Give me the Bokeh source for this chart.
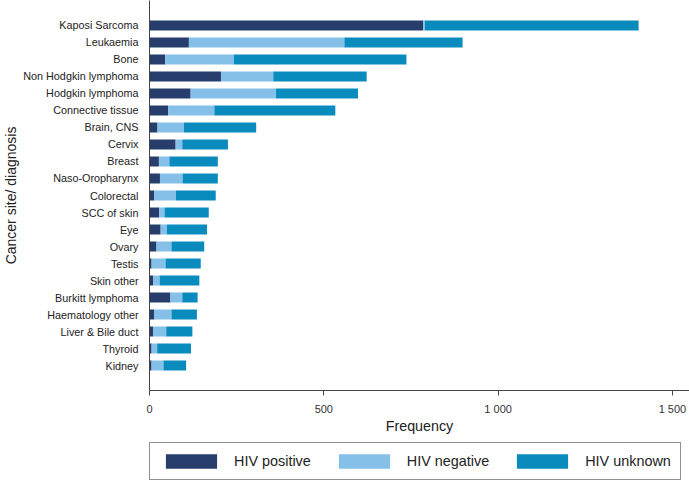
from bokeh.plotting import figure
from bokeh.layouts import column
from bokeh.models import (ColumnDataSource, FactorRange, Range1d, Legend, LegendItem,
                          SingleIntervalTicker)
from bokeh.embed import file_html
from bokeh.resources import INLINE

categories = ["Kaposi Sarcoma", "Leukaemia", "Bone", "Non Hodgkin lymphoma", "Hodgkin lymphoma",
              "Connective tissue", "Brain, CNS", "Cervix", "Breast", "Naso-Oropharynx", "Colorectal",
              "SCC of skin", "Eye", "Ovary", "Testis", "Skin other", "Burkitt lymphoma",
              "Haematology other", "Liver & Bile duct", "Thyroid", "Kidney"]
hiv_positive = [785, 113, 45, 205, 118, 54, 23, 75, 27, 30, 14, 28, 32, 20, 6, 10, 60, 14, 10, 6, 6]
hiv_negative = [5, 446, 197, 150, 245, 132, 76, 19, 30, 65, 62, 15, 18, 43, 40, 19, 34, 49, 38, 16, 34]
hiv_unknown = [613, 339, 495, 268, 235, 347, 207, 131, 139, 101, 114, 127, 115, 94, 101, 114, 44, 73, 75, 97, 65]
series = ["HIV positive", "HIV negative", "HIV unknown"]
colors = ["#273E6C", "#85C0E9", "#0A8BBE"]
x_ticks_labels = {0: "0", 500: "500", 1000: "1 000", 1500: "1 500"}

source = ColumnDataSource(dict(cat=categories, pos=hiv_positive, neg=hiv_negative, unk=hiv_unknown))

FONT = "Liberation Sans"
p = figure(width=689, height=436, output_backend="svg", toolbar_location=None,
           y_range=FactorRange(factors=list(reversed(categories)), range_padding=0.97,
                               range_padding_units="absolute"),
           x_range=Range1d(0, 1549),
           min_border_top=0, min_border_right=0, min_border_bottom=0, min_border_left=141)

p.hbar_stack(["pos", "neg", "unk"], y="cat", height=0.6, color=colors,
             line_color=None, source=source)

p.outline_line_color = None
p.xgrid.grid_line_color = None
p.ygrid.grid_line_color = None

# x axis
xa = p.xaxis[0]
xa.ticker = SingleIntervalTicker(interval=500, num_minor_ticks=0)
xa.major_label_overrides = x_ticks_labels
xa.axis_label = "Frequency"
xa.axis_label_text_font = FONT
xa.axis_label_text_font_size = "14.3px"
xa.axis_label_text_font_style = "normal"
xa.axis_label_text_color = "#222222"
xa.axis_label_standoff = 0
xa.major_label_text_font = FONT
xa.major_label_text_font_size = "11px"
xa.major_label_text_color = "#333333"
xa.major_label_standoff = 7
xa.major_tick_out = 5
xa.major_tick_in = 0
xa.minor_tick_line_color = None
xa.axis_line_color = "#444444"
xa.major_tick_line_color = "#444444"

# y axis
ya = p.yaxis[0]
ya.axis_label = "Cancer site/ diagnosis"
ya.axis_label_text_font = FONT
ya.axis_label_text_font_size = "14px"
ya.axis_label_text_font_style = "normal"
ya.axis_label_text_color = "#222222"
ya.axis_label_standoff = 1
ya.major_label_text_font = FONT
ya.major_label_text_font_size = "10.8px"
ya.major_label_text_color = "#222222"
ya.major_label_standoff = 5
ya.major_tick_line_color = None
ya.minor_tick_line_color = None
ya.axis_line_color = "#444444"

# legend strip (separate figure below the chart; its bar renderers are hidden)
p2 = figure(width=689, height=45, output_backend="svg", toolbar_location=None,
            x_axis_type=None, y_axis_type=None, x_range=Range1d(0, 1),
            y_range=FactorRange(factors=list(reversed(categories))),
            min_border_top=0, min_border_right=0, min_border_bottom=0, min_border_left=0)
p2.outline_line_color = None
legend_renderers = p2.hbar_stack(["pos", "neg", "unk"], y="cat", height=0.6, color=colors,
                                 line_color=None, source=source)
for r in legend_renderers:
    r.visible = False
legend = Legend(items=[LegendItem(label=s, renderers=[r]) for s, r in zip(series, legend_renderers)],
                orientation="horizontal", location=(0, 1),
                glyph_width=64, glyph_height=18, label_height=18, label_standoff=11,
                spacing=21, padding=9, margin=0,
                label_text_font=FONT, label_text_font_size="14.4px", label_text_color="#222222",
                border_line_color="#222222", border_line_width=1, background_fill_alpha=1)
p2.add_layout(legend, "center")

layout = column(p, p2, spacing=0)
open("out.html", "w").write(file_html(layout, INLINE))
